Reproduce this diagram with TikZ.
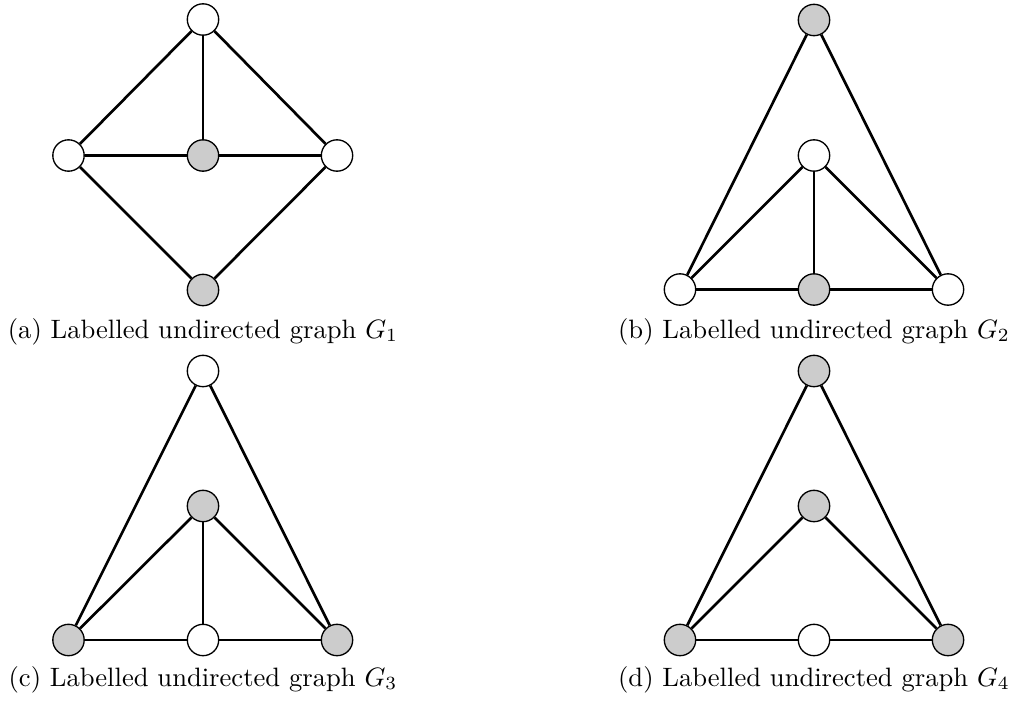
\documentclass[tikz,border=0pt]{standalone}
\begin{document}
\begin{tikzpicture}[x=0.376pt,y=-0.376pt,
  wnode/.style={circle,draw=black,line width=0.5pt,fill=white,minimum size=11.8pt,inner sep=0pt},
  gnode/.style={wnode,fill=black!20},
  edge/.style={line width=1pt},
  captext/.style={anchor=base,inner sep=0pt,font=\normalsize}]
\useasboundingbox (0,0) rectangle (1010,704);
% ---------- G1 ----------
\node[wnode] (a1) at (203,19.5) {};
\node[wnode] (a2) at (68.5,155.5) {};
\node[gnode] (a3) at (203,155.5) {};
\node[wnode] (a4) at (337,155.5) {};
\node[gnode] (a5) at (203,290) {};
\draw[edge] (a1) -- (a2);
\draw[edge] (a1) -- (a3);
\draw[edge] (a1) -- (a4);
\draw[edge] (a2) -- (a3);
\draw[edge] (a3) -- (a4);
\draw[edge] (a2) -- (a5);
\draw[edge] (a4) -- (a5);
\node[captext] (capa) at (203,338) {(a) Labelled undirected graph $G_1$};
% ---------- G2 ----------
\node[gnode] (b1) at (814,20) {};
\node[wnode] (b2) at (814,155.5) {};
\node[wnode] (b3) at (680,289.5) {};
\node[gnode] (b4) at (814,289.5) {};
\node[wnode] (b5) at (948,289.5) {};
\draw[edge] (b1) -- (b3);
\draw[edge] (b1) -- (b5);
\draw[edge] (b2) -- (b3);
\draw[edge] (b2) -- (b4);
\draw[edge] (b2) -- (b5);
\draw[edge] (b3) -- (b4);
\draw[edge] (b4) -- (b5);
\node[captext] (capb) at (814,338) {(b) Labelled undirected graph $G_2$};
% ---------- G3 ----------
\node[wnode] (c1) at (203,371) {};
\node[gnode] (c2) at (203,506) {};
\node[gnode] (c3) at (68.5,640) {};
\node[wnode] (c4) at (203,640) {};
\node[gnode] (c5) at (337,640) {};
\draw[edge] (c1) -- (c3);
\draw[edge] (c1) -- (c5);
\draw[edge] (c2) -- (c3);
\draw[edge] (c2) -- (c4);
\draw[edge] (c2) -- (c5);
\draw[edge] (c3) -- (c4);
\draw[edge] (c4) -- (c5);
\node[captext] (capc) at (203,686) {(c) Labelled undirected graph $G_3$};
% ---------- G4 ----------
\node[gnode] (d1) at (814,371) {};
\node[gnode] (d2) at (814,506) {};
\node[gnode] (d3) at (680,640) {};
\node[wnode] (d4) at (814,640) {};
\node[gnode] (d5) at (948,640) {};
\draw[edge] (d1) -- (d3);
\draw[edge] (d1) -- (d5);
\draw[edge] (d2) -- (d3);
\draw[edge] (d2) -- (d5);
\draw[edge] (d3) -- (d4);
\draw[edge] (d4) -- (d5);
\node[captext] (capd) at (814,686) {(d) Labelled undirected graph $G_4$};
\end{tikzpicture}
\end{document}
